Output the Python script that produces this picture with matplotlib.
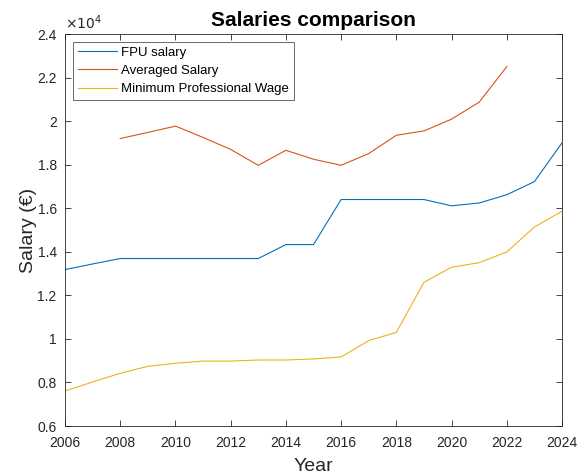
import numpy as np
import matplotlib
matplotlib.use('Agg')
import matplotlib.pyplot as plt

plt.rcParams['font.family'] = ['Liberation Sans', 'DejaVu Sans']

# data (values in euros)
years = np.arange(2006, 2025)
fpu = [13180, 13440, 13690, 13690, 13690, 13690, 13690, 13690, 14330, 14330,
       16400, 16400, 16400, 16400, 16110, 16240, 16620, 17220, 19000]
avg_years = np.arange(2008, 2023)
avg = [19200, 19480, 19770, 19250, 18700, 17970, 18660, 18250, 17970, 18510,
       19350, 19550, 20090, 20870, 22500]
mpw = [7610, 8020, 8420, 8740, 8880, 8980, 8980, 9030, 9030, 9080,
       9170, 9920, 10300, 12600, 13290, 13500, 13990, 15140, 15860]

xticks = np.arange(2006, 2025, 2)
yticks = np.arange(0.6, 2.41, 0.2)
ytick_labels = ['0.6', '0.8', '1', '1.2', '1.4', '1.6', '1.8', '2', '2.2', '2.4']

fig = plt.figure(figsize=(5.85, 4.76), dpi=100)
ax = fig.add_axes([65/585, 1-426/476, (562-65)/585, (426-34)/476])

ax.plot(years, np.array(fpu)/1e4, color='#0072BD', lw=0.8, label='FPU salary')
ax.plot(avg_years, np.array(avg)/1e4, color='#D95319', lw=0.8, label='Averaged Salary')
ax.plot(years, np.array(mpw)/1e4, color='#EDB120', lw=0.8, label='Minimum Professional Wage')

ax.set_xlim(2006, 2024)
ax.set_ylim(0.6, 2.4)
ax.set_xticks(xticks)
ax.set_yticks(yticks)
ax.set_yticklabels(ytick_labels)
ax.tick_params(direction='in', top=True, right=True, labelsize=10, colors='#262626', length=4, width=0.6)
ax.tick_params(axis='x', pad=7)
ax.tick_params(axis='y', pad=6)
for s in ax.spines.values():
    s.set_color('#262626')
    s.set_linewidth(0.6)

ax.text(0, 1.005, r'$\times10^4$', transform=ax.transAxes, fontsize=10, color='#262626', va='bottom', ha='left')
ax.set_title('Salaries comparison', fontsize=15, fontweight='bold', pad=6)
ax.set_xlabel('Year', fontsize=14, color='#262626', labelpad=6)
ax.set_ylabel('Salary (€)', fontsize=14, color='#262626', labelpad=0)

leg = ax.legend(loc='upper left', fontsize=9.5, frameon=True, fancybox=False, borderaxespad=0.6,
                handlelength=3.0, handletextpad=0.3, borderpad=0.35, labelspacing=0.45)
leg.get_frame().set_edgecolor('#262626')
leg.get_frame().set_linewidth(0.6)

plt.savefig('out.png', dpi=100)
